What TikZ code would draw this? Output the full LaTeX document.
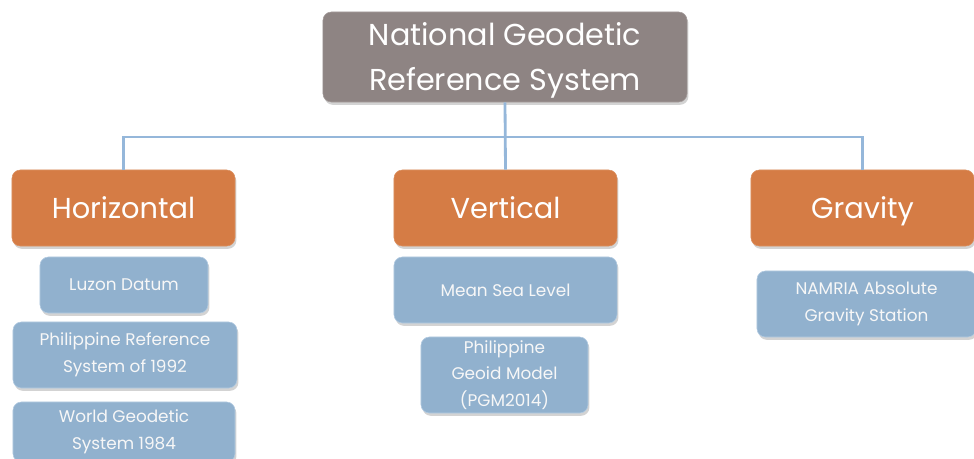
\documentclass[tikz,border=0pt]{standalone}
\usepackage{fontspec}
\setmainfont{Poppins}
\usetikzlibrary{shadows}
\definecolor{rootgray}{HTML}{8E8483}
\definecolor{branchorange}{HTML}{D57C45}
\definecolor{leafblue}{HTML}{91B1CE}
\definecolor{leafedge}{HTML}{B3CBE1}
\definecolor{linkblue}{HTML}{95B7DA}

\begin{document}
\begin{tikzpicture}[x=0.025cm,y=-0.025cm,
    box/.style={rounded corners=6pt,inner sep=0pt,align=center,text=white,
      drop shadow={opacity=0.35,shadow xshift=1pt,shadow yshift=-2pt}},
    rootbox/.style={box,fill=rootgray,draw=rootgray!80!white,
      minimum width=9.1cm,minimum height=2.25cm},
    roottext/.style={text=white,align=center,font=\fontsize{21.5}{32}\selectfont},
    branchbox/.style={box,fill=branchorange,draw=branchorange!85!white,
      minimum width=5.575cm,minimum height=1.9cm,text height=1.45em,text depth=0pt,
      font=\fontsize{20.5}{26}\selectfont},
    leafbox/.style={box,fill=leafblue,draw=leafedge,text=white!97!black,
      font=\fontsize{12}{19}\selectfont},
    link/.style={linkblue,line width=2pt}]
  \useasboundingbox (0,0) rectangle (974,459);

  % top of the tree
  \node[rootbox] (ngrs) at (505,57) {};
  \node[roottext] (ngrstext) at (505,60) {National Geodetic\\Reference System};

  % the three branches
  \node[branchbox] (horiz) at (123.5,208) {Horizontal};
  \node[branchbox] (vert) at (505.5,208) {Vertical};
  \node[branchbox] (grav) at (862.5,208) {Gravity};

  % connectors
  \coordinate (bus) at (505,137);
  \draw[link] (ngrs.south) -- (vert.north);
  \draw[link] (horiz.north) |- (bus) -| (grav.north);

  % horizontal datums
  \node[leafbox,minimum width=4.2cm,minimum height=1.4cm] (luzon) at (124,285) {Luzon Datum};
  \node[leafbox,minimum width=5.6cm,minimum height=1.65cm] (prs) at (125,355) {Philippine Reference\\System of 1992};
  \node[leafbox,minimum width=5.55cm,minimum height=1.5cm] (wgs) at (124,432) {World Geodetic\\System 1984};

  % vertical datums
  \node[leafbox,minimum width=5.575cm,minimum height=1.65cm] (msl) at (505.5,290) {Mean Sea Level};
  \node[leafbox,minimum width=4.175cm,minimum height=1.9cm] (pgm) at (504.5,375) {Philippine\\Geoid Model\\(PGM2014)};

  % gravity
  \node[leafbox,minimum width=5.475cm,minimum height=1.65cm] (namria) at (866.5,304) {NAMRIA Absolute\\Gravity Station};
\end{tikzpicture}
\end{document}
